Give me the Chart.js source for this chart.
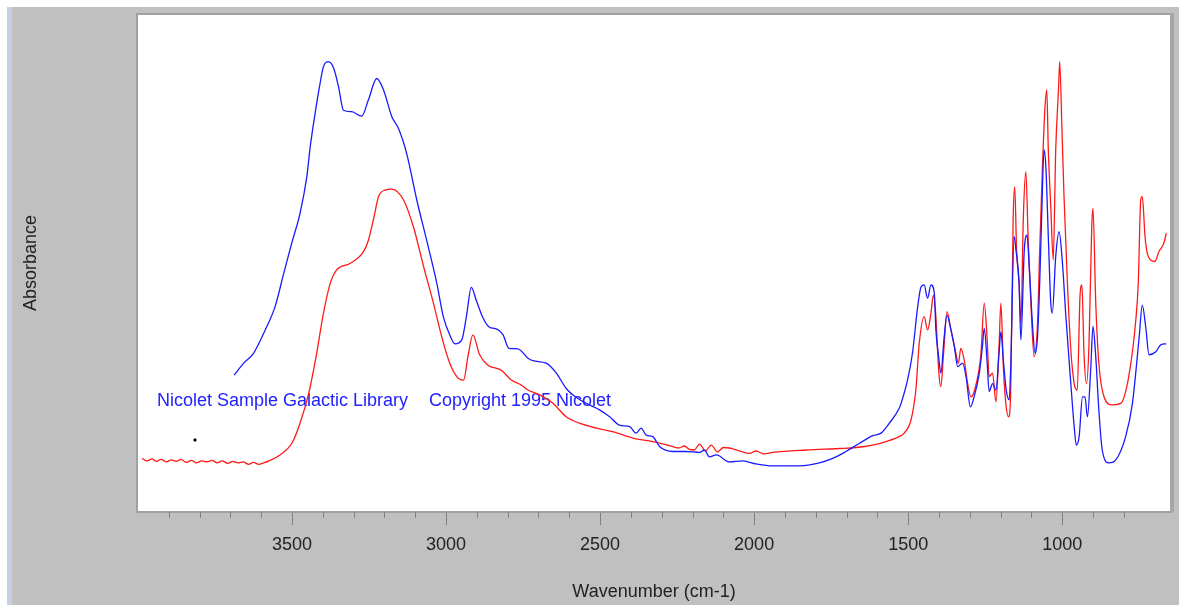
<!DOCTYPE html>
<html>
<head>
<meta charset="utf-8">
<title>IR spectrum</title>
<script src="https://cdn.jsdelivr.net/npm/chart.js@4.4.1/dist/chart.umd.min.js"></script>
<style>
  html, body { margin: 0; padding: 0; background: #c0c0c0; }
  #wrap { width: 1179px; height: 605px; }
</style>
</head>
<body>
<div id="wrap"><canvas id="spectrumChart" width="1179" height="605"></canvas></div>
<script>
// ============================================================
// IR SPECTRUM — two overlaid absorbance traces
// ============================================================

// ── Data ──────────────────────────────────────────────────
const RED_WAVENUMBER = [
  3987, 3970, 3955, 3940, 3925, 3908, 3892, 3876, 3860, 3843, 3826, 3810, 3793,
  3776, 3760, 3743, 3726, 3709, 3692, 3675, 3658, 3641, 3625, 3608, 3592, 3575,
  3539, 3501, 3474, 3446, 3420, 3398, 3376, 3355, 3312, 3268, 3252, 3236, 3219,
  3198, 3176, 3138, 3106, 3073, 3041, 3014, 2988, 2961, 2943, 2929, 2913, 2891,
  2864, 2821, 2788, 2756, 2734, 2696, 2653, 2610, 2567, 2512, 2459, 2394, 2329,
  2264, 2245, 2226, 2210, 2194, 2177, 2158, 2139, 2119, 2100, 2080, 2048, 2015, 1994, 1967, 1940,
  1831, 1723, 1669, 1615, 1572, 1529, 1513, 1491, 1475, 1464, 1448, 1437, 1426,
  1418, 1410, 1401, 1394, 1385, 1374, 1361, 1345, 1337, 1329, 1318, 1307, 1296,
  1280, 1264, 1253, 1244, 1237, 1226, 1215, 1205, 1199, 1191, 1183, 1174, 1167,
  1159, 1154, 1148, 1140, 1134, 1126, 1118, 1110, 1102, 1091, 1080, 1073, 1064,
  1056, 1050, 1045, 1037, 1029, 1021, 1012, 1008, 1001, 994, 983, 972, 961,
  951, 942, 936, 929, 921, 913, 904, 900, 891, 881, 864, 837, 810,
  784, 761, 753, 745, 740, 731, 724, 713, 699, 686, 670, 662
];
const RED_ABSORBANCE = [
  0.106, 0.101, 0.105, 0.100, 0.104, 0.099, 0.103, 0.100, 0.104, 0.098, 0.102, 0.097, 0.101,
  0.099, 0.102, 0.097, 0.101, 0.096, 0.100, 0.097, 0.099, 0.094, 0.098, 0.094, 0.097, 0.101,
  0.113, 0.136, 0.177, 0.237, 0.318, 0.399, 0.459, 0.486, 0.499, 0.523, 0.546, 0.587, 0.634,
  0.647, 0.649, 0.627, 0.573, 0.493, 0.419, 0.351, 0.298, 0.268, 0.264, 0.311, 0.355, 0.315,
  0.294, 0.284, 0.264, 0.254, 0.244, 0.234, 0.217, 0.190, 0.177, 0.167, 0.160, 0.147, 0.140,
  0.130, 0.127, 0.131, 0.124, 0.123, 0.135, 0.121, 0.133, 0.119, 0.128, 0.127, 0.121, 0.116, 0.121, 0.115, 0.118,
  0.123, 0.126, 0.128, 0.133, 0.140, 0.150, 0.157, 0.183, 0.244, 0.338, 0.392, 0.365, 0.399,
  0.435, 0.392, 0.284, 0.251, 0.318, 0.402, 0.365, 0.318, 0.298, 0.328, 0.304, 0.257, 0.230,
  0.254, 0.315, 0.419, 0.351, 0.271, 0.278, 0.220, 0.331, 0.419, 0.291, 0.217, 0.190, 0.244,
  0.593, 0.654, 0.526, 0.459, 0.378, 0.593, 0.684, 0.540, 0.425, 0.311, 0.378, 0.526, 0.694,
  0.812, 0.849, 0.728, 0.614, 0.506, 0.728, 0.849, 0.906, 0.775, 0.634, 0.459, 0.325, 0.257,
  0.244, 0.435, 0.456, 0.315, 0.257, 0.335, 0.573, 0.610, 0.419, 0.298, 0.230, 0.214, 0.217,
  0.271, 0.385, 0.459, 0.627, 0.634, 0.553, 0.520, 0.506, 0.503, 0.523, 0.540, 0.560
];

const BLUE_WAVENUMBER = [
  3688, 3657, 3625, 3587, 3555, 3527, 3501, 3474, 3452, 3441, 3425, 3411, 3398,
  3382, 3365, 3349, 3333, 3306, 3274, 3252, 3225, 3203, 3176, 3155, 3128, 3095,
  3063, 3030, 3009, 2988, 2971, 2949, 2934, 2918, 2902, 2880, 2858, 2842, 2815,
  2796, 2767, 2734, 2718, 2675, 2642, 2610, 2588, 2545, 2502, 2469, 2437, 2404,
  2383, 2367, 2350, 2329, 2307, 2264, 2221, 2177, 2161, 2145, 2123, 2080, 2037,
  1994, 1940, 1853, 1788, 1745, 1702, 1659, 1615, 1588, 1561, 1529, 1523, 1502,
  1486, 1469, 1458, 1448, 1437, 1426, 1415, 1410, 1401, 1394, 1383, 1374, 1361,
  1350, 1339, 1323, 1312, 1298, 1286, 1269, 1259, 1253, 1244, 1237, 1226, 1215,
  1205, 1199, 1191, 1181, 1172, 1167, 1156, 1150, 1140, 1134, 1123, 1114, 1107,
  1096, 1088, 1080, 1073, 1066, 1059, 1053, 1045, 1037, 1032, 1021, 1010, 999,
  988, 972, 961, 954, 945, 934, 926, 918, 907, 900, 891, 881, 870,
  848, 826, 794, 772, 750, 740, 729, 718, 696, 680, 662
];
const BLUE_ABSORBANCE = [
  0.274, 0.298, 0.318, 0.365, 0.412, 0.479, 0.540, 0.600, 0.674, 0.734, 0.802, 0.855, 0.896,
  0.906, 0.893, 0.855, 0.808, 0.805, 0.796, 0.829, 0.872, 0.849, 0.795, 0.772, 0.721, 0.627,
  0.546, 0.459, 0.392, 0.355, 0.337, 0.345, 0.392, 0.451, 0.425, 0.389, 0.370, 0.368, 0.355,
  0.328, 0.327, 0.308, 0.303, 0.298, 0.278, 0.247, 0.234, 0.217, 0.204, 0.190, 0.173, 0.170,
  0.157, 0.167, 0.153, 0.150, 0.130, 0.120, 0.120, 0.118, 0.123, 0.109, 0.113, 0.099, 0.101,
  0.095, 0.091, 0.091, 0.097, 0.106, 0.120, 0.136, 0.152, 0.157, 0.177, 0.207, 0.217, 0.264,
  0.318, 0.412, 0.452, 0.456, 0.429, 0.456, 0.439, 0.365, 0.311, 0.278, 0.351, 0.395, 0.365,
  0.331, 0.291, 0.298, 0.271, 0.210, 0.230, 0.278, 0.331, 0.368, 0.304, 0.241, 0.257, 0.244,
  0.318, 0.361, 0.304, 0.241, 0.224, 0.291, 0.553, 0.526, 0.459, 0.345, 0.526, 0.556, 0.493,
  0.372, 0.318, 0.351, 0.459, 0.607, 0.728, 0.694, 0.553, 0.419, 0.399, 0.513, 0.563, 0.499,
  0.392, 0.257, 0.170, 0.133, 0.150, 0.230, 0.230, 0.190, 0.291, 0.372, 0.311, 0.204, 0.123,
  0.097, 0.103, 0.150, 0.217, 0.351, 0.415, 0.372, 0.315, 0.321, 0.335, 0.337
];

// stray cursor dot left on the plot
const MARKER_WAVENUMBER = [3815];
const MARKER_ABSORBANCE = [0.143];

const X_MIN = 650;
const X_MAX = 4000;
const MAJOR_TICKS = [3500, 3000, 2500, 2000, 1500, 1000];

const NOTE_LEFT  = 'Nicolet Sample Galactic Library';
const NOTE_RIGHT = 'Copyright 1995 Nicolet';

// ── Helpers ───────────────────────────────────────────────
const FONT_FAMILY = "'Liberation Sans', Arial, sans-serif";
const toPoints = (xs, ys) => xs.map((x, i) => ({ x: x, y: ys[i] }));
const isMajor  = (v) => MAJOR_TICKS.includes(v);

// ── Window chrome + white plot panel ──────────────────────
const panelPlugin = {
  id: 'panel',
  beforeDraw(chart) {
    const { ctx, chartArea: a, width, height } = chart;
    ctx.save();
    ctx.fillStyle = '#c0c0c0';
    ctx.fillRect(0, 0, width, height);
    ctx.fillStyle = '#ffffff';
    ctx.fillRect(0, 0, width, 7);
    ctx.fillRect(0, 0, 7, height);
    ctx.fillStyle = '#c6d0e2';
    ctx.fillRect(7, 7, 5, height - 7);
    ctx.fillStyle = '#ffffff';
    ctx.fillRect(a.left, a.top, a.right - a.left, a.bottom - a.top);
    ctx.restore();
  },
  beforeDatasetsDraw(chart) {
    const { ctx, chartArea: a } = chart;
    ctx.save();
    ctx.font = '18px ' + FONT_FAMILY;
    ctx.fillStyle = '#2222ff';
    ctx.textBaseline = 'alphabetic';
    ctx.fillText(NOTE_LEFT, a.left + 19, 406);
    ctx.fillText(NOTE_RIGHT, a.left + 291, 406);
    ctx.restore();
  },
  afterDraw(chart) {
    const { ctx, chartArea: a, scales } = chart;
    const xs = scales.x;
    ctx.save();
    // frame
    ctx.strokeStyle = '#a0a0a0';
    ctx.lineWidth = 2;
    ctx.strokeRect(a.left - 1, a.top - 1, a.right - a.left + 2, a.bottom - a.top + 2);
    ctx.fillStyle = '#a6a6a6';
    ctx.fillRect(a.right, a.top - 2, 4, a.bottom - a.top + 3);
    // minor ticks every 100 cm-1
    ctx.strokeStyle = '#808080';
    ctx.lineWidth = 1;
    xs.ticks.forEach((t) => {
      const v = t.value;
      if (v <= X_MIN || v >= X_MAX || isMajor(v) || v % 100 !== 0) return;
      const px = Math.round(xs.getPixelForValue(v)) + 0.5;
      ctx.beginPath();
      ctx.moveTo(px, a.bottom + 1);
      ctx.lineTo(px, a.bottom + 7);
      ctx.stroke();
    });
    ctx.restore();
  }
};

// ── Chart ─────────────────────────────────────────────────
Chart.defaults.font.family = FONT_FAMILY;

new Chart(document.getElementById('spectrumChart'), {
  type: 'line',
  data: {
    datasets: [
      {
        label: 'Blue trace',
        data: toPoints(BLUE_WAVENUMBER, BLUE_ABSORBANCE),
        borderColor: '#1a1aff',
        borderWidth: 1.3,
        pointRadius: 0,
        cubicInterpolationMode: 'monotone'
      },
      {
        label: 'Red trace',
        data: toPoints(RED_WAVENUMBER, RED_ABSORBANCE),
        borderColor: '#ff1a1a',
        borderWidth: 1.3,
        pointRadius: 0,
        cubicInterpolationMode: 'monotone'
      },
      {
        label: 'Marker',
        data: toPoints(MARKER_WAVENUMBER, MARKER_ABSORBANCE),
        showLine: false,
        pointStyle: 'rectRot',
        pointRadius: 2,
        pointBackgroundColor: '#000000',
        pointBorderColor: '#000000',
        borderWidth: 0
      }
    ]
  },
  options: {
    responsive: false,
    devicePixelRatio: 1,
    animation: false,
    events: [],
    layout: { padding: { left: 0, right: 7, top: 15, bottom: 0 } },
    plugins: {
      legend: { display: false },
      tooltip: { enabled: false }
    },
    scales: {
      x: {
        type: 'linear',
        reverse: true,
        min: X_MIN,
        max: X_MAX,
        border: { display: false },
        grid: {
          drawOnChartArea: false,
          drawTicks: true,
          tickLength: 14,
          lineWidth: 1,
          tickColor: (c) => (c.tick && isMajor(c.tick.value) ? '#808080' : 'rgba(0,0,0,0)')
        },
        ticks: {
          stepSize: 100,
          autoSkip: false,
          maxRotation: 0,
          padding: 9,
          color: '#222222',
          font: { size: 18 },
          callback: (v) => (isMajor(v) ? String(v) : '')
        },
        title: {
          display: true,
          text: 'Wavenumber (cm-1)',
          color: '#222222',
          font: { size: 18 },
          padding: { top: 0, bottom: 2 }
        },
        afterFit: (scale) => { scale.height = 94; }
      },
      y: {
        min: 0,
        max: 1,
        border: { display: false },
        grid: { display: false },
        ticks: { display: false },
        title: {
          display: true,
          text: 'Absorbance',
          color: '#222222',
          font: { size: 18 },
          padding: { top: 20, bottom: 0 }
        },
        afterFit: (scale) => { scale.width = 138; }
      }
    }
  },
  plugins: [panelPlugin]
});
</script>
</body>
</html>
